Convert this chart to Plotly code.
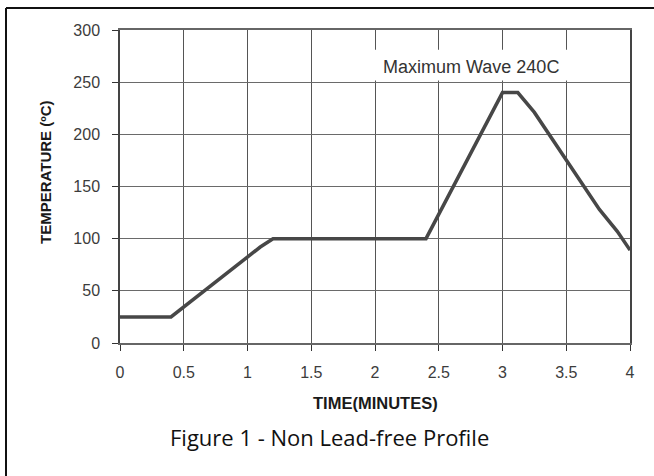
import plotly.graph_objects as go

# Data
time_min = [0, 0.4, 1.1, 1.2, 2.4, 3.0, 3.12, 3.25, 3.76, 3.9, 4.0]
temp_c = [25, 25, 92, 100, 100, 240, 240, 221, 128, 107, 89]
x_ticks = [0, 0.5, 1, 1.5, 2, 2.5, 3, 3.5, 4]
x_tick_text = ["0", "0.5", "1", "1.5", "2", "2.5", "3", "3.5", "4"]
y_ticks = [0, 50, 100, 150, 200, 250, 300]
peak_label = "Maximum Wave 240C"
x_title = "TIME(MINUTES)"
y_title = "TEMPERATURE (ºC)"
caption = "Figure 1 - Non Lead-free Profile"

W, H = 654, 476
ML, MR, MT, MB = 120, 24, 30, 133
PW, PH = W - ML - MR, H - MT - MB


def px_to_paper_x(px):
    return (px - ML) / PW


def px_to_paper_y(py):
    return (H - MB - py) / PH


fig = go.Figure()
fig.add_trace(go.Scatter(
    x=time_min, y=temp_c, mode="lines",
    line=dict(color="#474747", width=3.5),
    hoverinfo="skip", showlegend=False,
))

tick_font = dict(family="Liberation Sans, Arial, sans-serif", size=16, color="#3c3c3c")

fig.update_xaxes(
    range=[0, 4], tickvals=x_ticks, ticktext=x_tick_text,
    showgrid=True, gridcolor="#555555", gridwidth=1.3,
    showline=True, linecolor="#666666", linewidth=1.5, mirror=True,
    ticks="outside", ticklen=6, tickcolor="#333333", tickwidth=1.3,
    tickfont=tick_font, zeroline=False, ticklabelstandoff=8,
)
fig.update_yaxes(
    range=[0, 300], tickvals=y_ticks,
    showgrid=True, gridcolor="#6a6a6a", gridwidth=1.3,
    showline=True, linecolor="#444444", linewidth=1.5, mirror=True,
    ticks="outside", ticklen=6, tickcolor="#333333", tickwidth=1.3,
    tickfont=tick_font, zeroline=False, ticklabelstandoff=9,
)

# white box behind peak label (covers gridlines)
fig.add_shape(type="rect", xref="x", yref="y", x0=1.78, x1=3.985, y0=251.5, y1=281,
              fillcolor="white", line=dict(width=0), layer="above")
fig.add_annotation(x=2.753, y=264.5, xref="x", yref="y", text=peak_label, showarrow=False,
                   font=dict(family="Liberation Sans, Arial, sans-serif", size=18, color="#333333"))

# axis titles and caption
fig.add_annotation(x=px_to_paper_x(375), y=px_to_paper_y(403), xref="paper", yref="paper",
                   text="<b>" + x_title + "</b>", showarrow=False,
                   font=dict(family="Liberation Sans, Arial, sans-serif", size=16.5, color="#1a1a1a"),
                   xanchor="center", yanchor="middle")
fig.add_annotation(x=px_to_paper_x(45), y=px_to_paper_y(172), xref="paper", yref="paper",
                   text="<b>" + y_title + "</b>", showarrow=False, textangle=-90,
                   font=dict(family="Liberation Sans, Arial, sans-serif", size=15, color="#1a1a1a"),
                   xanchor="center", yanchor="middle")
fig.add_annotation(x=px_to_paper_x(329), y=px_to_paper_y(437), xref="paper", yref="paper",
                   text=caption, showarrow=False,
                   font=dict(family="Open Sans, Noto Sans, sans-serif", size=22, color="#111111"),
                   xanchor="center", yanchor="middle")

# outer frame: top and left edges only
fig.add_shape(type="line", xref="paper", yref="paper",
              x0=px_to_paper_x(6), x1=px_to_paper_x(660), y0=px_to_paper_y(8), y1=px_to_paper_y(8),
              line=dict(color="#111111", width=2))
fig.add_shape(type="line", xref="paper", yref="paper",
              x0=px_to_paper_x(6), x1=px_to_paper_x(6), y0=px_to_paper_y(8), y1=px_to_paper_y(480),
              line=dict(color="#111111", width=2))

fig.update_layout(
    width=W, height=H,
    margin=dict(l=ML, r=MR, t=MT, b=MB),
    paper_bgcolor="white", plot_bgcolor="white",
    showlegend=False,
)

fig.write_html("out.html", config={"displayModeBar": False},
               post_script="document.body.style.margin='0';")
